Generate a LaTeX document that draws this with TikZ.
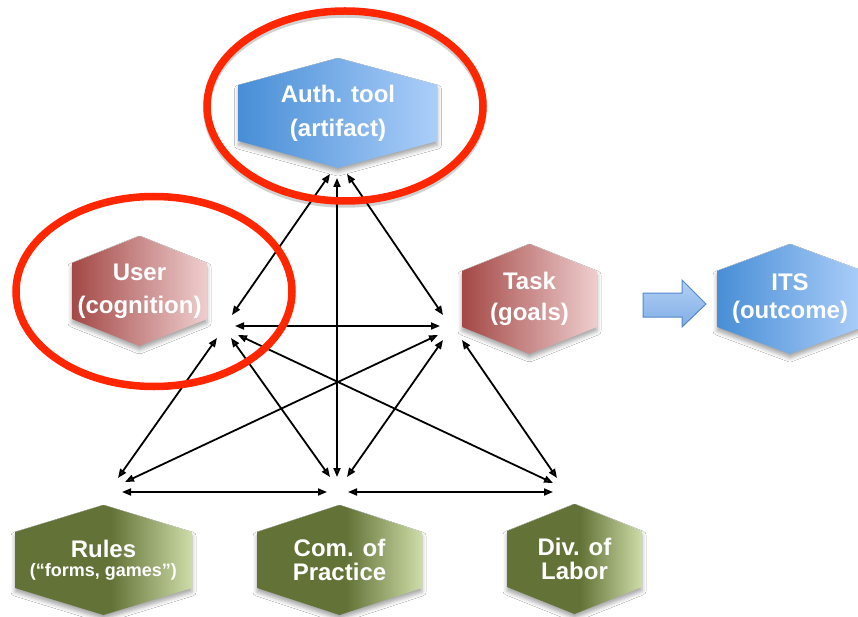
\documentclass[tikz,border=0pt]{standalone}
\usepackage{fontspec}
\setmainfont{Liberation Sans}
\usetikzlibrary{arrows.meta,shadows.blur}

\definecolor{bluedark}{RGB}{72,142,214}
\definecolor{bluelight}{RGB}{172,206,249}
\definecolor{reddark}{RGB}{163,72,70}
\definecolor{redlight}{RGB}{239,206,206}
\definecolor{greendark}{RGB}{99,115,55}
\definecolor{greenlight}{RGB}{206,220,168}
\definecolor{ringred}{RGB}{255,38,0}
\definecolor{flowtop}{RGB}{178,208,244}
\definecolor{flowbot}{RGB}{128,173,230}
\definecolor{flowline}{RGB}{84,136,204}

% olive faces stay dark up to the middle, then lighten towards the right
\pgfdeclarehorizontalshading{olive}{100bp}{color(0bp)=(greendark); color(25bp)=(greendark); color(52bp)=(greendark); color(75bp)=(greenlight); color(100bp)=(greenlight)}

\tikzset{
  hexface/.style={blur shadow={shadow xshift=0pt, shadow yshift=-4pt, shadow blur radius=4pt, shadow opacity=35}},
  bluehex/.style={left color=bluedark, right color=bluelight},
  redhex/.style={left color=reddark, right color=redlight},
  greenhex/.style={shading=olive},
  hexlabel/.style={text=white, align=center, inner sep=0pt},
  relation/.style={{Triangle[length=9pt,width=7pt]}-{Triangle[length=9pt,width=7pt]}, line width=1.8pt},
  ring/.style={draw=ringred, line width=7.5pt},
  ringshade/.style={draw=black, opacity=0.18, line width=7.5pt},
}

% #1 name, #2 centre x, #3 centre y, #4 half width, #5 face style, #6 font, #7 label
\newcommand\HexBox[7]{%
  \path[hexface,#5] (#2-#4,#3-28) -- (#2,#3-55) -- (#2+#4,#3-28)
     -- (#2+#4,#3+28) -- (#2,#3+55) -- (#2-#4,#3+28) -- cycle;
  \node[hexlabel,font=#6] (#1) at (#2,#3) {#7};
}

\begin{document}
\begin{tikzpicture}[x=1pt,y=-1pt]
\useasboundingbox (0,0) rectangle (858,617);
\fill[white] (0,0) rectangle (858,617);

% activity system elements
\HexBox{tool}{338}{113}{99.5}{bluehex}{\bfseries\fontsize{24}{34}\selectfont}{Auth. tool\\(artifact)}
\HexBox{user}{139.5}{291}{67.5}{redhex}{\bfseries\fontsize{24}{33}\selectfont}{User\\(cognition)}
\HexBox{task}{529.5}{299}{67.5}{redhex}{\bfseries\fontsize{24}{31}\selectfont}{Task\\(goals)}
\HexBox{its}{790}{299}{73}{bluehex}{\bfseries\fontsize{24}{28}\selectfont}{ITS\\(outcome)}
\HexBox{rules}{103.5}{560}{88.5}{greenhex}{\bfseries\fontsize{24}{19}\selectfont}{Rules\\{\fontsize{18}{19}\selectfont(“forms, games”)}}
\HexBox{community}{339.5}{560}{82.5}{greenhex}{\bfseries\fontsize{24}{24}\selectfont}{Com. of\\Practice}
\HexBox{labor}{574.5}{559}{67.5}{greenhex}{\bfseries\fontsize{24}{24}\selectfont}{Div. of\\Labor}

% block arrow from task to outcome
\path[draw=flowline, line width=1pt, top color=flowtop, bottom color=flowbot]
  (643,293) -- (682,293) -- (682,280) -- (706,304) -- (682,327)
  -- (682,317) -- (643,317) -- cycle;

% arrow end points around the triangle
\coordinate (tL) at (330,174);
\coordinate (tC) at (337,178);
\coordinate (tR) at (347,174);
\coordinate (lT) at (232,315);
\coordinate (lH) at (235,326);
\coordinate (lA) at (217,338);
\coordinate (lB) at (231,338);
\coordinate (lC) at (238,335);
\coordinate (rT) at (443,315);
\coordinate (rH) at (440,326);
\coordinate (rA) at (438,335);
\coordinate (rB) at (443,340);
\coordinate (rC) at (462,340);
\coordinate (bLa) at (118,478);
\coordinate (bLb) at (125,482);
\coordinate (bLh) at (122,492);
\coordinate (bMa) at (330,477);
\coordinate (bMv) at (337,477);
\coordinate (bMb) at (347,477);
\coordinate (bMh1) at (327,492);
\coordinate (bMh2) at (348,492);
\coordinate (bRa) at (553,483);
\coordinate (bRb) at (557,478);
\coordinate (bRh) at (553,492);

% mediating relations
\draw[relation] (tL) -- (lT);
\draw[relation] (tC) -- (bMv);
\draw[relation] (tR) -- (rT);
\draw[relation] (lH) -- (rH);
\draw[relation] (lA) -- (bLa);
\draw[relation] (lB) -- (bMa);
\draw[relation] (lC) -- (bRa);
\draw[relation] (rA) -- (bLb);
\draw[relation] (rB) -- (bMb);
\draw[relation] (rC) -- (bRb);
\draw[relation] (bLh) -- (bMh1);
\draw[relation] (bMh2) -- (bRh);

% highlight rings
\draw[ringshade] (345,109) ellipse [x radius=138, y radius=95];
\draw[ring] (345,106) ellipse [x radius=138, y radius=95];
\draw[ring] (154,291.5) ellipse [x radius=138, y radius=95];
\end{tikzpicture}
\end{document}
